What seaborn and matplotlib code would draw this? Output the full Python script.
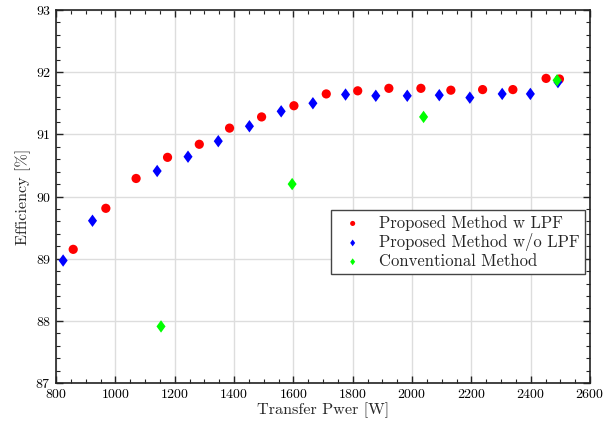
import matplotlib
matplotlib.use("Agg")
import matplotlib.pyplot as plt
import seaborn as sns
import pandas as pd
from matplotlib.ticker import MultipleLocator

sns.set_theme(style="ticks")
plt.rcParams['font.family'] = 'serif'
plt.rcParams['font.serif'] = ['cmr10', 'DejaVu Serif']
plt.rcParams['mathtext.fontset'] = 'cm'
plt.rcParams['axes.formatter.use_mathtext'] = True

# Data
x_lpf = [858, 968, 1070, 1176, 1283, 1385, 1493, 1602, 1711, 1817, 1922, 2030, 2131, 2238, 2340, 2452, 2497]
y_lpf = [89.15, 89.81, 90.29, 90.63, 90.84, 91.10, 91.28, 91.46, 91.65, 91.70, 91.74, 91.74, 91.71, 91.72, 91.72, 91.90, 91.89]

x_nolpf = [824, 923, 1141, 1245, 1347, 1452, 1559, 1666, 1776, 1878, 1984, 2092, 2195, 2304, 2399, 2492]
y_nolpf = [88.97, 89.61, 90.41, 90.64, 90.89, 91.13, 91.37, 91.50, 91.64, 91.62, 91.62, 91.63, 91.59, 91.65, 91.65, 91.84]

x_conv = [1154, 1596, 2039, 2489]
y_conv = [87.91, 90.20, 91.28, 91.87]

labels = ["Proposed Method w LPF", "Proposed Method w/o LPF", "Conventional Method"]

diamond = [(0, 1), (0.73, 0), (0, -1), (-0.73, 0), (0, 1)]

fig = plt.figure(figsize=(6.16, 4.30), dpi=100)
ax = fig.add_axes([56/616, 1 - 383/430, (590-56)/616, (383-10)/430])

ax.grid(True, color='#dddddd', linewidth=1.0)
ax.set_axisbelow(True)

sns.scatterplot(x=x_lpf, y=y_lpf, ax=ax, color='#ff0000', marker='o', s=44, edgecolor='none', label=labels[0], zorder=3)
sns.scatterplot(x=x_nolpf, y=y_nolpf, ax=ax, color='#0000ff', marker=diamond, s=80, edgecolor='none', label=labels[1], zorder=3)
sns.scatterplot(x=x_conv, y=y_conv, ax=ax, color='#00ff00', marker=diamond, s=80, edgecolor='none', label=labels[2], zorder=4)

ax.set_xlim(800, 2600)
ax.set_ylim(87, 93)
ax.xaxis.set_major_locator(MultipleLocator(200))
ax.xaxis.set_minor_locator(MultipleLocator(50))
ax.yaxis.set_major_locator(MultipleLocator(1))
ax.yaxis.set_minor_locator(MultipleLocator(0.2))
ax.tick_params(which='both', direction='in', top=True, right=True, colors='#222222', labelcolor='black', labelsize=10)
ax.tick_params(which='major', length=5, width=1.0)
ax.tick_params(which='minor', length=3, width=0.8)
for sp in ax.spines.values():
    sp.set_color('#222222')
    sp.set_linewidth(1.2)

ax.set_xlabel("Transfer Pwer [W]", fontsize=11.7, labelpad=1)
ax.set_ylabel("Efficiency [%]", fontsize=11.7, labelpad=3)

leg = ax.legend(loc='upper left', bbox_to_anchor=((331-56)/534, 1 - (210-10)/373), fontsize=12.0,
                frameon=True, fancybox=False, edgecolor='#444444', framealpha=1, markerscale=0.55,
                borderpad=0.3, labelspacing=0.15, handletextpad=0.6, handlelength=2.0, borderaxespad=0)
leg.get_frame().set_linewidth(1.0)

fig.savefig("out.png", dpi=100)
